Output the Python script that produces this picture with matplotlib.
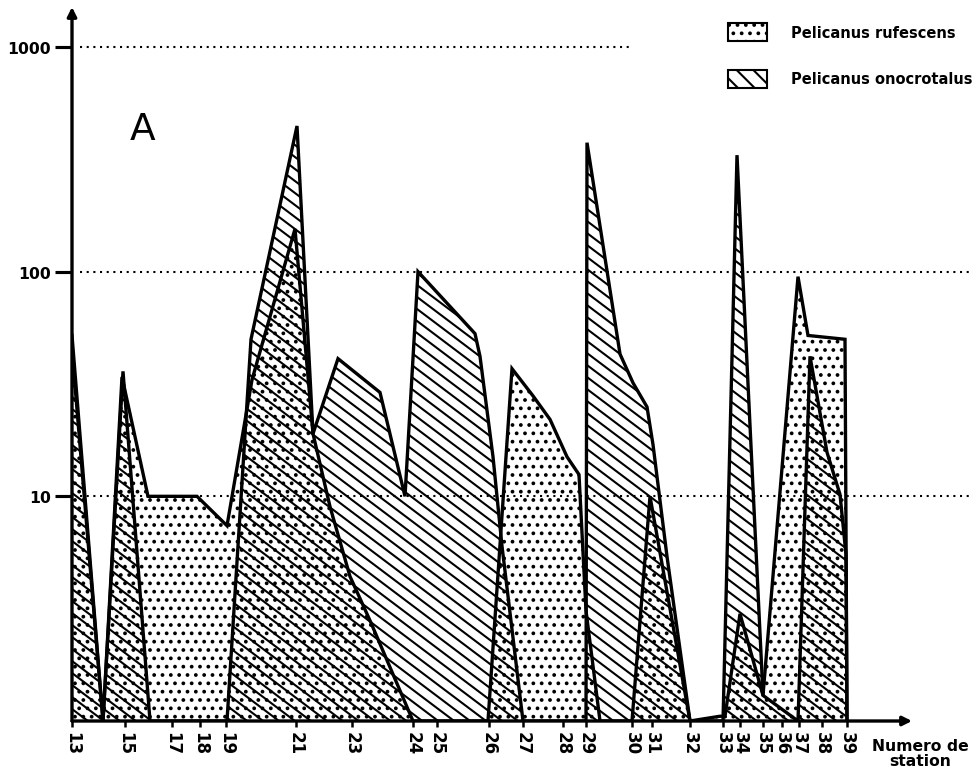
import numpy as np
import matplotlib
matplotlib.use("Agg")
import matplotlib.pyplot as plt
from matplotlib.patches import Patch
from matplotlib.collections import LineCollection

# ---------------- data ----------------
# station numbers shown on the x axis and their position along the transect
station_labels = [13, 15, 17, 18, 19, 21, 23, 24, 25, 26, 27, 28, 29, 30, 31,
                  32, 33, 34, 35, 36, 37, 38, 39]
station_pos = [0, 53, 100, 128, 154, 224, 280, 341, 365, 417, 451, 491, 514,
               560, 580, 618, 651, 668, 691, 710, 727, 750, 775]

# Pelicanus rufescens (dotted area): position along transect, count
ruf_pos = [0, 31, 50, 76, 100, 125, 155, 180, 223, 241, 258, 278, 298, 341,
           416, 440, 461, 478, 495, 507, 514, 528, 560, 578, 618, 648, 653,
           668, 691, 726, 736, 773, 775]
ruf_val = [45, 0, 34, 10, 10, 10, 7.4, 33, 155, 19, 9, 4.4, 2.8, 0,
           0, 37, 28, 22, 15, 12.5, 3.1, 0, 0, 10, 0, 1.05, 1.05,
           3, 1.3, 95, 52, 50, 0]

# Pelicanus onocrotalus (hatched area)
ono_pos = [0, 31, 51, 78, 155, 179, 225, 241, 266, 308, 333, 346, 403, 408,
           421, 430, 451, 514, 515, 548, 561, 575, 581, 595, 618, 651, 665,
           691, 726, 738, 755, 768, 774, 775]
ono_val = [52, 0, 36, 0, 0, 50, 445, 19, 41, 29, 10, 100, 53, 42,
           15, 6, 0, 0, 375, 43, 32, 25, 17, 5.4, 0, 0, 330,
           1.3, 0, 42, 15.7, 10.2, 5.5, 0]

y_ticks = [10, 100, 1000]
y_ticklabels = ["10", "100", "1000"]

# ---------------- figure ----------------
W, H, DPI = 979, 782, 150
plt.rcParams['hatch.linewidth'] = 1.0
plt.rcParams['font.family'] = ['DejaVu Sans']
fig = plt.figure(figsize=(W / DPI, H / DPI), dpi=DPI)
AX_W, AX_H = 975 - 72, 722 - 8
ax = fig.add_axes([72 / W, 60 / H, AX_W / W, AX_H / H])
ax.set_yscale('log')
ax.set_xlim(0, 903)
ax.set_ylim(1, 10 ** 3.178)

for s in ax.spines.values():
    s.set_visible(False)

# dotted reference lines
ax.hlines(1000, 8, 560, colors='black', linestyles=(0, (1, 2.2)), lw=1.0)
ax.hlines([100, 10], 8, 900, colors='black', linestyles=(0, (1, 2.2)), lw=1.0)

rx = np.array(ruf_pos, float)
ry = np.maximum(np.array(ruf_val, float), 1)
ox = np.array(ono_pos, float)
oy = np.maximum(np.array(ono_val, float), 1)

# rufescens: stippled
ax.fill_between(rx, 1, ry, facecolor='none', edgecolor='black',
                hatch='...', linewidth=0)

# onocrotalus: diagonal hatching, drawn as clipped lines
ono_poly = ax.fill_between(ox, 1, oy, facecolor='none', edgecolor='none',
                           linewidth=0)
slope = np.tan(np.radians(37))
gap = 12.0
segs = []
c = 0.0
while c < AX_H + AX_W * slope + gap:
    segs.append([(0, c / AX_H), (1, (c - AX_W * slope) / AX_H)])
    c += gap
lc = LineCollection(segs, colors='black', linewidths=1.0,
                    transform=ax.transAxes)
ax.add_collection(lc)
lc.set_clip_path(ono_poly.get_paths()[0], ax.transData)

ax.plot(rx, ry, color='black', lw=1.6, solid_joinstyle='miter')
ax.plot(ox, oy, color='black', lw=1.6, solid_joinstyle='miter')

# axes arrows
ax.annotate('', xy=(0, 1.0), xytext=(0, 0), xycoords='axes fraction',
            arrowprops=dict(arrowstyle='-|>', lw=1.6, color='black',
                            mutation_scale=9, shrinkA=0, shrinkB=0))
ax.annotate('', xy=(840 / 903, 0), xytext=(0, 0), xycoords='axes fraction',
            arrowprops=dict(arrowstyle='-|>', lw=1.6, color='black',
                            mutation_scale=9, shrinkA=0, shrinkB=0))

# ticks
ax.set_yticks(y_ticks)
ax.set_yticklabels(y_ticklabels, fontsize=7.5, fontweight='bold')
ax.yaxis.set_minor_locator(matplotlib.ticker.NullLocator())
ax.tick_params(axis='y', which='major', direction='out', length=8, width=1.5,
               pad=2)
ax.set_xticks(station_pos)
ax.set_xticklabels([str(s) for s in station_labels], rotation=-90,
                   fontsize=8, fontweight='bold')
ax.tick_params(axis='x', direction='out', length=3, width=1.2, pad=2)

fig.text(920 / W, 1 - 754 / H, "Numero de\nstation", ha='center',
         va='center', fontsize=7.5, fontweight='bold', linespacing=1.0)
fig.text(143 / W, 1 - 130 / H, "A", ha='center', va='center', fontsize=18)

handles = [Patch(facecolor='white', edgecolor='black', hatch='...', lw=1.0),
           Patch(facecolor='white', edgecolor='black', hatch='\\\\\\', lw=1.0)]
fig.legend(handles, ["Pelicanus rufescens", "Pelicanus onocrotalus"],
           loc='upper left', bbox_to_anchor=(722 / W, 1 - 18 / H),
           frameon=False, handlelength=2.7, handleheight=1.5,
           labelspacing=2.0, handletextpad=1.6, borderaxespad=0,
           prop={'weight': 'bold', 'size': 7})

fig.savefig("out.png", dpi=DPI)
